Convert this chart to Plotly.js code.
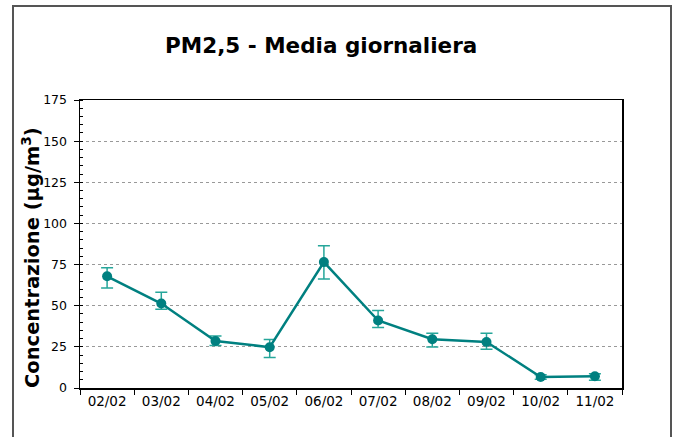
<!DOCTYPE html>
<html>
<head>
<meta charset="utf-8">
<script src="https://cdn.plot.ly/plotly-3.0.1.min.js"></script>
<style>html,body{margin:0;padding:0;background:#fff;}#chart{width:679px;height:437px;}</style>
</head>
<body>
<div id="chart"></div>
<script>
const categories = ["02/02","03/02","04/02","05/02","06/02","07/02","08/02","09/02","10/02","11/02"];
const mediaValues = [67.9, 51.3, 28.6, 24.8, 76.5, 41.0, 29.6, 28.0, 6.7, 7.1];
const upperValues = [73.0, 58.2, 31.6, 29.4, 86.4, 47.1, 33.3, 33.3, 8.1, 8.7];
const lowerValues = [60.8, 47.9, 25.8, 18.5, 66.3, 36.7, 24.9, 23.5, 5.3, 4.7];
const yTickVals = [0, 25, 50, 75, 100, 125, 150, 175];

const errPlus = upperValues.map((u, i) => u - mediaValues[i]);
const errMinus = lowerValues.map((l, i) => mediaValues[i] - l);

const trace = {
  type: 'scatter',
  mode: 'lines+markers',
  x: categories,
  y: mediaValues,
  line: {color: '#008080', width: 2.5},
  marker: {color: '#008080', size: 10},
  error_y: {
    type: 'data',
    symmetric: false,
    array: errPlus,
    arrayminus: errMinus,
    color: '#26a69a',
    thickness: 1.5,
    width: 6
  },
  hoverinfo: 'x+y'
};

const layout = {
  width: 679,
  height: 437,
  margin: {l: 80, r: 57, t: 100, b: 49},
  paper_bgcolor: '#ffffff',
  plot_bgcolor: '#ffffff',
  showlegend: false,
  font: {family: 'DejaVu Sans, Verdana, sans-serif', color: '#000', size: 12},
  title: {
    text: '<b>PM2,5 - Media giornaliera</b>',
    font: {family: 'DejaVu Sans, Verdana, sans-serif', size: 21.5, color: '#000'},
    x: 0.445, xref: 'paper', xanchor: 'center',
    y: 1 - 45/437, yref: 'container', yanchor: 'middle'
  },
  xaxis: {
    type: 'category',
    tickson: 'boundaries',
    ticks: 'outside',
    ticklen: 5,
    tickcolor: '#000',
    showline: true,
    linecolor: '#000',
    linewidth: 1.5,
    mirror: true,
    showgrid: false,
    zeroline: false,
    tickfont: {size: 13.5, color: '#000'},
    range: [-0.5, 9.5],
    fixedrange: true
  },
  yaxis: {
    range: [0, 175],
    tickvals: yTickVals,
    ticks: 'outside',
    ticklen: 5,
    tickcolor: '#000',
    showline: true,
    linecolor: '#000',
    linewidth: 1.5,
    mirror: true,
    showgrid: true,
    gridcolor: '#999',
    griddash: 'dot',
    gridwidth: 1,
    zeroline: false,
    tickfont: {size: 12.5, color: '#000'},
    ticklabelstandoff: 4,
    minor: {dtick: 5, ticks: 'inside', ticklen: 3, tickcolor: '#000', showgrid: false},
    fixedrange: true
  },
  annotations: [{
    text: '<b>Concentrazione (µg/m<sup>3</sup>)</b>',
    xref: 'paper', yref: 'paper',
    x: (31 - 80) / 542, y: (388 - 258) / 288,
    xanchor: 'center', yanchor: 'middle',
    textangle: -90,
    showarrow: false,
    font: {family: 'DejaVu Sans, Verdana, sans-serif', size: 19.5, color: '#000'}
  }],
  shapes: [{
    type: 'path',
    xref: 'paper', yref: 'paper',
    path: 'M ' + ((13 - 80) / 542) + ' ' + ((388 - 445) / 288) +
          ' L ' + ((13 - 80) / 542) + ' ' + ((388 - 6) / 288) +
          ' L ' + ((671 - 80) / 542) + ' ' + ((388 - 6) / 288) +
          ' L ' + ((671 - 80) / 542) + ' ' + ((388 - 445) / 288),
    line: {color: '#555', width: 2}
  }]
};

Plotly.newPlot('chart', [trace], layout, {displayModeBar: false, staticPlot: true});
</script>
</body>
</html>
